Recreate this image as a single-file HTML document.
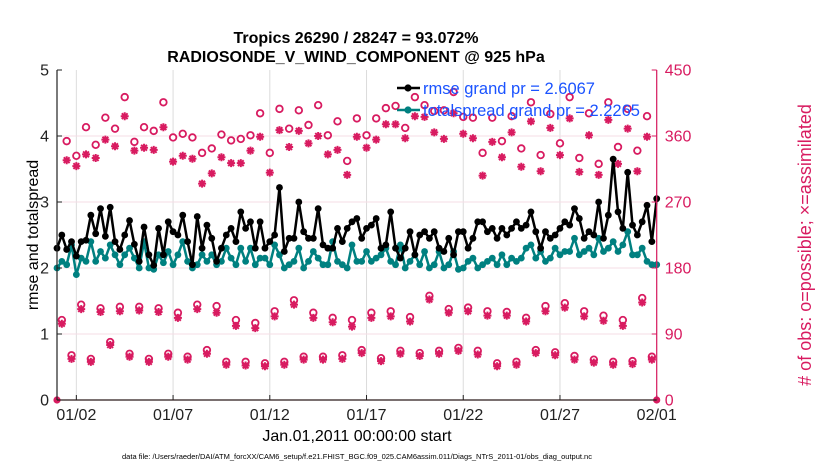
<!DOCTYPE html>
<html><head><meta charset="utf-8"><style>
body{margin:0;background:#fff;}
svg{font-family:"Liberation Sans",Arial,sans-serif;}
</style></head><body>
<svg id="chart" width="830" height="470" xmlns="http://www.w3.org/2000/svg">
<text x="356" y="43" text-anchor="middle" font-size="16" font-weight="bold">Tropics 26290 / 28247 = 93.072%</text>
<text x="356" y="62" text-anchor="middle" font-size="16" font-weight="bold">RADIOSONDE_V_WIND_COMPONENT @ 925 hPa</text>
<g id="grid"></g>
<g id="marks"></g>
<g id="axes"></g>
<text transform="translate(38,235) rotate(-90)" text-anchor="middle" font-size="16">rmse and totalspread</text>
<text transform="translate(811,245) rotate(-90)" text-anchor="middle" font-size="18" fill="#d81b60"># of obs: o=possible; ×=assimilated</text>
<text x="357" y="441" text-anchor="middle" font-size="16">Jan.01,2011 00:00:00 start</text>
<text x="357" y="459" text-anchor="middle" font-size="7.5">data file: /Users/raeder/DAI/ATM_forcXX/CAM6_setup/f.e21.FHIST_BGC.f09_025.CAM6assim.011/Diags_NTrS_2011-01/obs_diag_output.nc</text>
<g>
<line x1="397" y1="88" x2="420" y2="88" stroke="#000" stroke-width="2.5"/>
<circle cx="408" cy="88" r="3.6" fill="#000"/>
<text x="423" y="94" font-size="16.5" fill="#1a53ff">rmse grand pr = 2.6067</text>
<line x1="397" y1="110" x2="420" y2="110" stroke="#008080" stroke-width="2.5"/>
<circle cx="408" cy="110" r="3.6" fill="#008080"/>
<text x="423" y="116" font-size="16.5" fill="#1a53ff">totalspread grand pr = 2.2265</text>
</g>
</svg>
<script>
const rmse=[2.30,2.50,2.28,2.40, 2.18,2.40,2.42,2.80, 2.52,2.90,2.48,2.92, 2.40,2.28,2.50,2.72, 2.36,2.10,2.62,2.20,
2.04,2.60,2.20,2.70, 2.55,2.50,2.80,2.40, 2.05,2.78,2.30,2.65, 2.45,2.10,2.30,2.50, 2.60,2.40,2.85,2.60,
2.70,2.30,2.70,2.30, 2.40,2.50,3.22,2.25, 2.45,2.45,3.00,2.55, 2.45,2.45,2.90,2.35, 2.30,2.30,2.60,2.40,
2.60,2.70,2.75,2.45, 2.60,2.65,2.75,2.30, 2.35,2.85,2.30,2.15, 2.30,2.55,2.20,2.50, 2.55,2.45,2.55,2.30,
2.25,2.45,2.20,2.55, 2.55,2.30,2.45,2.70, 2.70,2.55,2.60,2.45, 2.60,2.50,2.60,2.70, 2.60,2.65,2.85,2.55,
2.30,2.55,2.45,2.50, 2.60,2.70,2.65,2.90, 2.75,2.45,2.55,2.50, 3.00,2.45,2.80,3.65, 2.85,2.60,3.45,2.65,
2.50,2.70,2.95,2.40,3.05];
const spread=[2.00,2.10,2.05,2.35, 1.90,2.15,2.10,2.40, 2.10,2.25,2.15,2.35, 2.20,2.05,2.20,2.30, 2.15,2.00,2.40,2.00,
1.98,2.20,2.08,2.25, 2.05,2.20,2.40,2.10, 2.00,2.05,2.20,2.10, 2.20,2.05,2.10,2.30, 2.15,2.05,2.30,2.10,
2.30,2.05,2.15,2.15, 2.05,2.35,2.20,2.00, 2.05,2.10,2.30,2.00, 2.10,2.25,2.15,2.05, 2.05,2.40,2.10,2.05,
2.00,2.35,2.10,2.10, 2.25,2.10,2.15,2.20, 2.30,2.10,2.05,2.35, 2.00,2.10,2.20,2.05, 2.25,2.00,2.05,2.25,
2.00,2.05,2.25,1.98, 2.00,2.10,2.15,2.00, 2.05,2.10,2.15,2.05, 2.20,2.05,2.15,2.10, 2.15,2.30,2.35,2.15,
2.25,2.10,2.15,2.30, 2.20,2.25,2.25,2.45, 2.20,2.25,2.30,2.20, 2.45,2.25,2.30,2.40, 2.25,2.35,2.55,2.20,
2.20,2.30,2.10,2.05,2.05];
const possibleMain=[353,333,372,348,385,370,413,352,372,367,406,358,363,358,337,343,362,354,356,361,391,337,397,370,395,375,402,361,380,326,384,361,384,398,401,371,413,402,394,395,420,386,385,337,385,353,387,343,406,334,390,350,413,330,391,322,406,345,397,340,387];
const assimMain=[327,319,335,330,355,346,387,340,344,341,372,325,333,329,295,309,331,323,323,340,359,310,368,345,367,350,360,335,341,307,359,344,355,376,376,357,387,386,365,356,391,363,357,306,352,331,365,318,380,312,371,334,384,311,361,307,382,322,370,312,359];
const possibleA=[109,130,125,127,127,125,119,130,128,109,105,121,136,119,112,109,119,121,113,142,124,126,121,120,112,128,132,121,115,109,139];
const assimA=[104,124,120,121,122,120,112,124,119,101,98,114,130,112,106,100,112,114,107,137,119,121,115,115,107,121,126,114,108,101,133];
const possibleB=[61,56,79,63,56,63,59,68,52,52,50,52,59,59,61,68,57,67,64,67,71,67,50,52,68,65,60,55,52,53,59];
const assimB=[56,52,75,59,52,59,55,63,48,47,46,48,55,55,56,64,53,63,60,63,67,62,46,48,64,61,55,51,48,49,55];
const leftTicks=[0,1,2,3,4,5];
const rightTicks=[0,90,180,270,360,450];
const xTickSteps=[4,24,44,64,84,104,124];
const xTickLabels=["01/02","01/07","01/12","01/17","01/22","01/27","02/01"];

const X0=57,X1=656.7,Y0=400,Y1=70,NS=124;
const xs=t=>X0+t*(X1-X0)/NS;
const yl=v=>Y0-(v/5)*(Y0-Y1);
const yr=v=>Y0-(v/450)*(Y0-Y1);
const NS_="http://www.w3.org/2000/svg";
function mk(tag,attrs,parent){const e=document.createElementNS(NS_,tag);for(const k in attrs)e.setAttribute(k,attrs[k]);parent.appendChild(e);return e;}
const grid=document.getElementById('grid'),marks=document.getElementById('marks'),axes=document.getElementById('axes');
const PINK="#d81b60";

xTickSteps.forEach((t,i)=>{
  const g=mk('line',{x1:xs(t),x2:xs(t),y1:Y1,y2:Y0,stroke:'#dcdcdc','stroke-width':1},grid);
  
  
  const tk=mk('line',{x1:xs(t),x2:xs(t),y1:Y0,y2:Y0-5,stroke:'#222','stroke-width':1},axes);
  
  
  const lb=mk('text',{x:xs(t),y:Y0+20,'text-anchor':'middle','font-size':16,fill:'#222'},axes);
  lb.textContent=xTickLabels[i];
  
  
});
leftTicks.forEach(v=>{
  if(v>0&&v<5){const g=mk('line',{x1:X0,x2:X1,y1:yl(v),y2:yl(v),stroke:'#f5dde6','stroke-width':1},grid);
  
  }
  const tk=mk('line',{x1:X0,x2:X0+5,y1:yl(v),y2:yl(v),stroke:'#222'},axes);
  
  
  const lb=mk('text',{x:X0-8,y:yl(v)+5.5,'text-anchor':'end','font-size':16,fill:'#222'},axes);
  lb.textContent=v;
  
  
});
rightTicks.forEach(v=>{
  const tk=mk('line',{x1:X1,x2:X1-5,y1:yr(v),y2:yr(v),stroke:PINK},axes);
  
  
  const lb=mk('text',{x:X1+8,y:yr(v)+5.5,'font-size':16,fill:PINK},axes);
  lb.textContent=v;
  
  
});
let e;
e=mk('line',{x1:X0,x2:X0,y1:Y1,y2:Y0,stroke:'#222','stroke-width':1.2},axes);


e=mk('line',{x1:X1,x2:X1,y1:Y1,y2:Y0,stroke:PINK,'stroke-width':1.2},axes);


e=mk('line',{x1:X0,x2:X1,y1:Y0,y2:Y0,stroke:'#2a1a1a','stroke-width':1.2},axes);



function circ(x,y){const c=mk('circle',{cx:x,cy:y,r:3.3,fill:'#fff',stroke:PINK,'stroke-width':1.8},marks);
  
  }
function ast(x,y){const g=mk('path',{d:`M${x-4},${y}h8M${x},${y-4}v8M${x-2.9},${y-2.9}l5.8,5.8M${x-2.9},${y+2.9}l5.8,-5.8`,stroke:PINK,'stroke-width':2},marks);
  
  }
function obs(t,p,a){circ(xs(t),yr(p));ast(xs(t),yr(a));}
possibleMain.forEach((p,i)=>obs(2+2*i,p,assimMain[i]));
possibleA.forEach((p,i)=>obs(1+4*i,p,assimA[i]));
possibleB.forEach((p,i)=>obs(3+4*i,p,assimB[i]));
[0,NS].forEach(t=>{const d=mk('circle',{cx:xs(t),cy:yr(0),r:3.6,fill:PINK},marks);
  
  });

function series(vals,color,name){
  const pts=vals.map((v,i)=>xs(i)+','+yl(v)).join(' ');
  const pl=mk('polyline',{points:pts,fill:'none',stroke:color,'stroke-width':2.5,'stroke-linejoin':'round'},marks);
  
  
  vals.forEach((v,i)=>{const c=mk('circle',{cx:xs(i),cy:yl(v),r:3.4,fill:color},marks);
    
    });
}
series(spread,'#008080','totalspread');
series(rmse,'#000','rmse');
</script>
</body></html>
